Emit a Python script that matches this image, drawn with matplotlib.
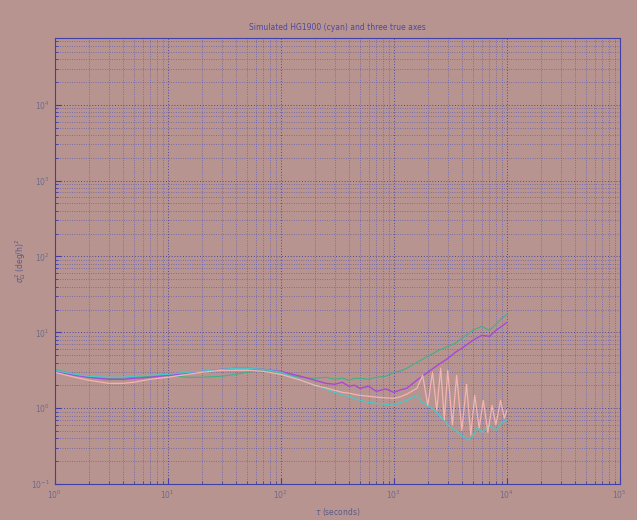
import matplotlib
matplotlib.use("Agg")
import matplotlib.pyplot as plt
from matplotlib.ticker import LogLocator, NullFormatter

# averaging times (s) shared by the smooth part of all curves
tau_base = [1, 1.5, 2, 3, 4, 5, 7, 10, 15, 20, 30, 40, 50, 70, 100,
            150, 200, 250, 300, 350, 400, 450, 500, 600, 700, 850, 1000,
            1150, 1300, 1600]

# true axis 1 (green) - rises at long tau
tau_green = tau_base + [2000, 2500, 3000, 3500, 4000, 5000, 6000, 7000,
                        8000, 9000, 10000]
sig_green = [3.26, 2.80, 2.56, 2.48, 2.48, 2.56, 2.64, 2.72, 2.56, 2.56,
             2.64, 2.80, 2.98, 3.16, 2.89, 2.56, 2.48, 2.56, 2.41, 2.50,
             2.34, 2.48, 2.48, 2.41, 2.56, 2.64, 2.98, 3.10, 3.36, 4.03,
             4.83, 5.80, 6.50, 7.17, 8.34, 10.6, 12.0, 10.6, 12.7, 15.3, 17.2]

# true axis 2 (magenta)
tau_mag = tau_base + [2000, 2500, 3000, 3500, 4000, 5000, 6000, 7000,
                      8000, 9000, 10000]
sig_mag = [3.05, 2.72, 2.56, 2.41, 2.41, 2.48, 2.56, 2.72, 2.89, 3.05,
           3.26, 3.36, 3.36, 3.26, 3.05, 2.64, 2.34, 2.13, 2.07, 2.20,
           1.95, 2.01, 1.83, 1.95, 1.67, 1.80, 1.62, 1.75, 1.83, 2.34,
           2.98, 3.79, 4.50, 5.46, 6.16, 7.85, 9.14, 8.86, 10.6, 12.0, 13.5]

# simulated HG1900 (cyan)
tau_cyan = tau_base + [1800, 2000, 2300, 2500, 2800, 3000, 3500, 4000,
                       4500, 5000, 5500, 6000, 7000, 8000, 9000, 10000]
sig_cyan = [3.16, 2.80, 2.64, 2.56, 2.56, 2.64, 2.72, 2.80, 2.98, 3.07,
            3.26, 3.36, 3.36, 3.26, 2.98, 2.34, 2.01, 1.80, 1.62, 1.50,
            1.44, 1.35, 1.27, 1.20, 1.16, 1.13, 1.09, 1.20, 1.27, 1.48,
            1.20, 1.09, 0.94, 0.81, 0.70, 0.60, 0.51, 0.44, 0.38, 0.43,
            0.55, 0.48, 0.60, 0.51, 0.65, 0.70]

# true axis 3 (salmon) - oscillating tail
tau_pink = tau_base + [1800, 2000, 2200, 2400, 2600, 2800, 3000, 3300,
                       3600, 4000, 4400, 4800, 5200, 5700, 6200, 6800,
                       7400, 8000, 8800, 9500, 10000]
sig_pink = [2.98, 2.56, 2.34, 2.13, 2.13, 2.20, 2.41, 2.56, 2.80, 2.98,
            3.16, 3.16, 3.16, 3.07, 2.80, 2.34, 2.01, 1.85, 1.72, 1.62,
            1.58, 1.52, 1.48, 1.44, 1.40, 1.37, 1.35, 1.42, 1.53, 1.83,
            2.72, 1.09, 2.98, 0.94, 3.36, 0.70, 3.16, 0.60, 2.72, 0.51,
            2.07, 0.44, 1.48, 0.55, 1.27, 0.48, 1.09, 0.60, 1.27, 0.74, 0.94]

title = "Simulated HG1900 (cyan) and three true axes"

bg = "#b89490"
grid_col = "#5656b4"

fig = plt.figure(figsize=(6.37, 5.20), dpi=100, facecolor=bg)
ax = fig.add_axes([0.086, 0.069, 0.887, 0.858], facecolor=bg)

ax.loglog(tau_green, sig_green, color="#40b088", lw=0.8)
ax.loglog(tau_mag, sig_mag, color="#a848d8", lw=1.0)
ax.loglog(tau_cyan, sig_cyan, color="#48c8c8", lw=0.9)
ax.loglog(tau_pink, sig_pink, color="#f4b4b0", lw=0.9)

ax.set_xlim(1, 1e5)
ax.set_ylim(0.1, 10 ** 4.88)

ax.xaxis.set_major_locator(LogLocator(base=10, numticks=10))
ax.yaxis.set_major_locator(LogLocator(base=10, numticks=10))
ax.xaxis.set_minor_locator(LogLocator(base=10, subs=range(2, 10), numticks=20))
ax.yaxis.set_minor_locator(LogLocator(base=10, subs=range(2, 10), numticks=20))
ax.xaxis.set_minor_formatter(NullFormatter())
ax.yaxis.set_minor_formatter(NullFormatter())

ax.grid(True, which="major", color="#40409a", ls=(0, (1.2, 2.2)), lw=0.6)
ax.grid(True, which="minor", color=grid_col, ls=(0, (1.2, 2.2)), lw=0.5)
ax.set_axisbelow(True)

for s in ax.spines.values():
    s.set_color("#4040a8")
    s.set_linewidth(0.8)

ax.tick_params(which="both", direction="in", colors="#4040a8",
               labelcolor="#6e6a88", labelsize=5.5)
ax.tick_params(which="major", length=4)
ax.tick_params(which="minor", length=2)

ax.set_title(title, fontsize=5.5, color="#4a4aa0", pad=6)
ax.set_xlabel(r"$\tau$ (seconds)", fontsize=5.5, color="#5a5a88", labelpad=3)
ax.set_ylabel(r"$\sigma_\Omega^2$ (deg/h)$^2$", fontsize=5.5,
              color="#5a5a88", labelpad=2)

fig.savefig("out.png", dpi=100, facecolor=bg)
